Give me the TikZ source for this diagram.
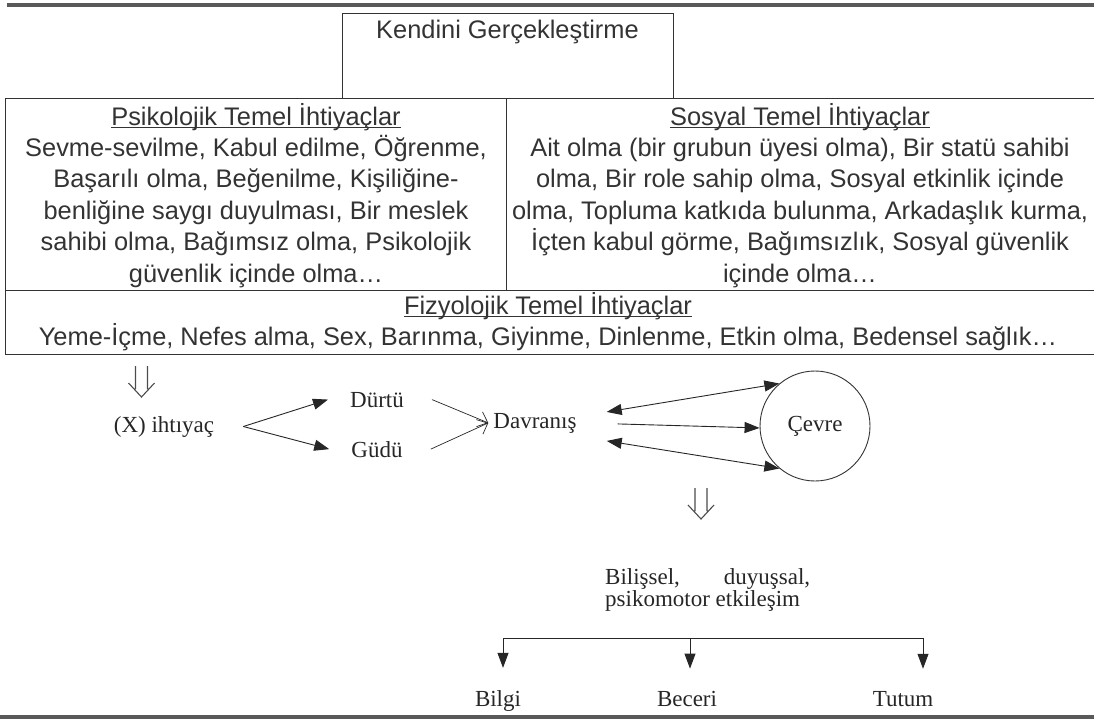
\documentclass[tikz,border=0pt]{standalone}
\usepackage{fontspec}
\setmainfont{Liberation Serif}
\setsansfont{Liberation Sans}
\usetikzlibrary{arrows.meta}

\newcommand{\needhead}[1]{\sbox0{#1}\rlap{\rule[-3pt]{\wd0}{1.4pt}}\usebox0}
\newcommand{\openarrow}[1]{%
	\draw [glyph] ([xshift=-6]#1) -- ++(0,23)
	              ([xshift=6]#1) -- ++(0,23)
	              ([shift={(-13,17)}]#1) -- ([shift={(0,31)}]#1) -- ([shift={(13,17)}]#1);
}

\tikzset{
	box/.style={draw=black!80, line width=1.4pt, anchor=north west, inner sep=0},
	needtext/.style={font=\sffamily\fontsize{25.4}{30}\selectfont, text=black!80, anchor=base, inner sep=0},
	lbl/.style={font=\fontsize{23}{24}\selectfont, text=black!85, anchor=base, inner sep=0},
	thickrule/.style={line width=3.5pt, draw=black!65},
	glyph/.style={line width=1.1pt, draw=black!70},
	link/.style={line width=0.9pt, draw=black!85},
	tip/.style={link, -{Triangle[length=15pt, width=11pt]}},
	bitip/.style={link, {Triangle[length=15pt, width=11pt]}-{Triangle[length=15pt, width=11pt]}},
	barb/.style={link, line width=0.7pt, -{Straight Barb[length=9pt, width=16pt]}},
}

\begin{document}
\begin{tikzpicture}[x=1pt, y=-1pt]
	\useasboundingbox (0,0) rectangle (1094,720);
	
	% Rules
	\draw [thickrule] (7,5) -- (1094,5);
	\draw [thickrule] (0,717) -- (1094,717);
	
	% Boxes
	\node (kendini) [box, minimum width=331, minimum height=85] at (342,13) {};
	\node (psiko)   [box, minimum width=501, minimum height=192] at (5,98) {};
	\node (sosyal)  [box, minimum width=594, minimum height=192] at (506,98) {};
	\node (fizyo)   [box, minimum width=1095, minimum height=64] at (5,290) {};
	
	% Needs
	\node (kendinitext) [needtext] at (507.5,38) {Kendini Gerçekleştirme};
	\foreach [count=\i] \txt in {
		{\needhead{Psikolojik Temel İhtiyaçlar}},
		{Sevme-sevilme, Kabul edilme, Öğrenme,},
		{Başarılı olma, Beğenilme, Kişiliğine-},
		{benliğine saygı duyulması, Bir meslek},
		{sahibi olma, Bağımsız olma, Psikolojik},
		{güvenlik içinde olma\ldots}}{
		\node (psikoline\i) [needtext] at (256,{93.6+31.4*\i}) {\txt};
	}
	\foreach [count=\i] \txt in {
		{\needhead{Sosyal Temel İhtiyaçlar}},
		{Ait olma (bir grubun üyesi olma), Bir statü sahibi},
		{olma, Bir role sahip olma, Sosyal etkinlik içinde},
		{olma, Topluma katkıda bulunma, Arkadaşlık kurma,},
		{İçten kabul görme, Bağımsızlık, Sosyal güvenlik},
		{içinde olma\ldots}}{
		\node (sosyalline\i) [needtext] at (800,{93.6+31.4*\i}) {\txt};
	}
	\node (fizyohead) [needtext] at (548,314) {\needhead{Fizyolojik Temel İhtiyaçlar}};
	\node (fizyoline) [needtext] at (548,345)
	      {Yeme-İçme, Nefes alma, Sex, Barınma, Giyinme, Dinlenme, Etkin olma, Bedensel sağlık\ldots};
	
	% Need -> behaviour
	\coordinate (needtop) at (141.5,366);
	\openarrow{needtop}
	\node (ihtiyac) [lbl] at (164,432) {(X) ihtıyaç};
	\coordinate (split) at ([xshift=29]ihtiyac.east);
	\node (durtu) [lbl] at (377,407) {Dürtü};
	\node (gudu)  [lbl] at (377,457) {Güdü};
	\draw [tip] (split) -- ([xshift=-22]durtu.west);
	\draw [tip] (split) -- ([xshift=-22]gudu.west);
	\node (davranis) [lbl] at (535,428) {Davranış};
	\draw [barb] ([xshift=28]durtu.east) -- ([xshift=-5]davranis.west);
	\draw [barb] ([xshift=28]gudu.east) -- ([xshift=-5]davranis.west);
	
	% Environment
	\node (cevre)
	      [ lbl
	      , circle
	      , draw=black!80
	      , line width=0.9pt
	      , minimum size=110
	      , anchor=center
	      ]
	      at (815,426)
	      {Çevre};
	\draw [bitip] ([shift={(30,-11)}]davranis.east) -- (cevre.130);
	\draw [tip]   ([shift={(41,1)}]davranis.east)   -- (cevre.182);
	\draw [bitip] ([shift={(30,18)}]davranis.east)  -- (cevre.230);
	
	\coordinate (cevretop) at (701,488);
	\openarrow{cevretop}
	\node (bilissel)   [lbl, anchor=base west] at (605,584) {\hbox to 205pt{Bilişsel,\hfill duyuşsal,}};
	\node (psikomotor) [lbl, anchor=base west] at (605,606) {psikomotor etkileşim};
	
	% Outcomes
	\coordinate (bar1) at (503,638);
	\coordinate (bar2) at (690,638);
	\coordinate (bar3) at (923,638);
	\node (bilgi)  [lbl] at (498,706) {Bilgi};
	\node (beceri) [lbl] at (687,706) {Beceri};
	\node (tutum)  [lbl] at (903,706) {Tutum};
	\draw [link] (bar1) -- (bar3);
	\foreach \b/\lab in {bar1/bilgi,bar2/beceri,bar3/tutum}{
		\draw [tip, shorten >=22] (\b) -- (\b |- \lab.north);
	}
\end{tikzpicture}
\end{document}
